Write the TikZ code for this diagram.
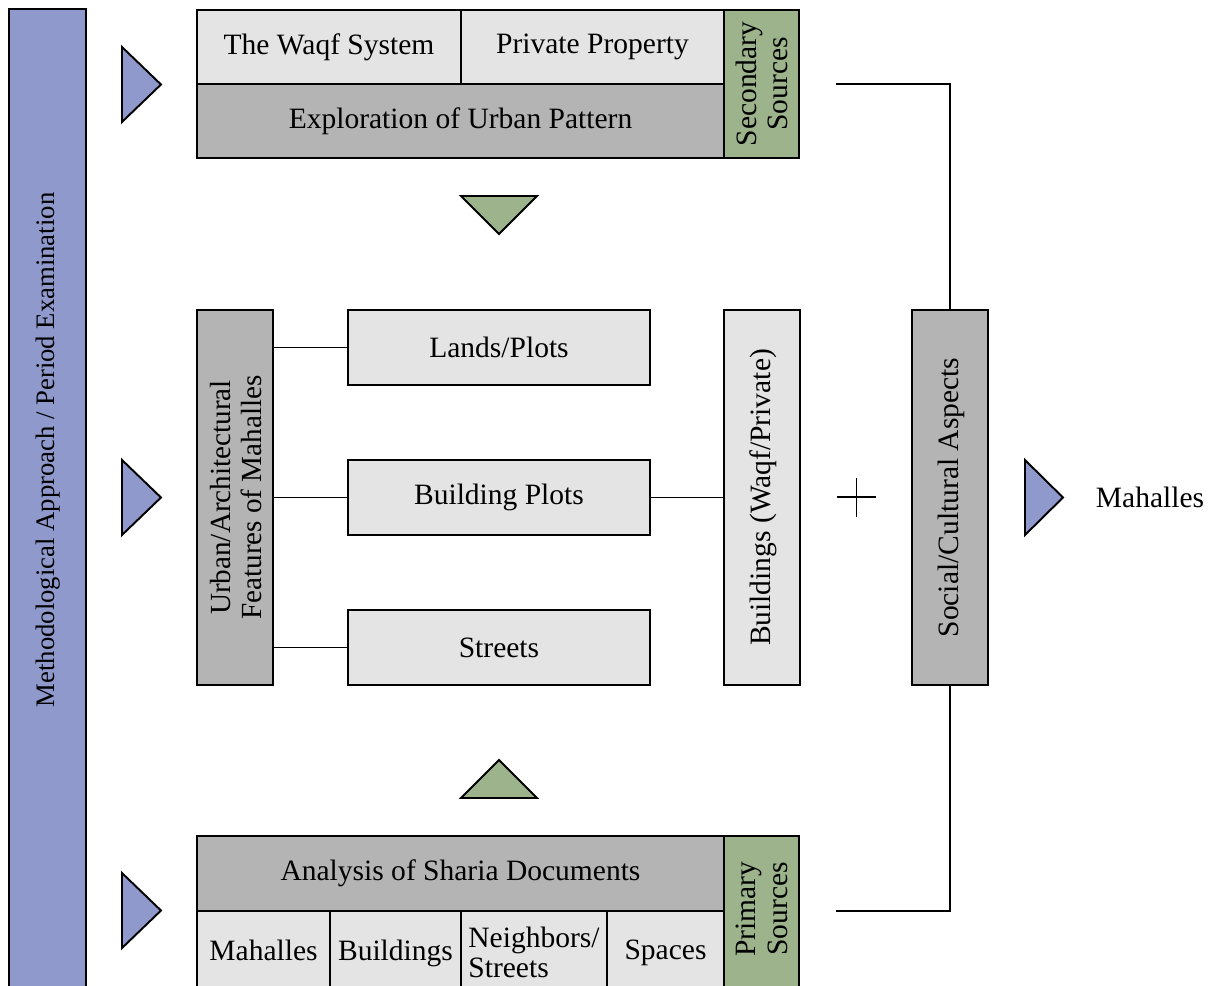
\documentclass[tikz,border=0pt]{standalone}
\usepackage{fontspec}
\setmainfont{Liberation Serif}
\definecolor{cblue}{HTML}{8F99CC}
\definecolor{cgreen}{HTML}{9CB38C}
\definecolor{clight}{HTML}{E4E4E4}
\definecolor{cdark}{HTML}{B4B4B4}
\begin{document}
\begin{tikzpicture}[x=0.02cm,y=-0.02cm,
  every node/.style={font=\fontsize{16.8}{18.5}\selectfont, inner sep=0pt},
  lightbox/.style={draw=black, line width=1.1pt, fill=clight},
  darkbox/.style={draw=black, line width=1.1pt, fill=cdark},
  greenbox/.style={draw=black, line width=1.1pt, fill=cgreen},
  bluebox/.style={draw=black, line width=1.1pt, fill=cblue},
  conn/.style={draw=black, line width=1pt},
  tri/.style={draw=black, line width=1.1pt, line join=miter}]
\useasboundingbox (0,0) rectangle (1218,985);
\clip (0,0) rectangle (1218,985);
% left bar
\node[bluebox, minimum width=1.54cm, minimum height=19.82cm] (bar) at (47.5,504.5) {};
\node[rotate=90, font=\fontsize{15.2}{18}\selectfont] (bartext) at (48,450) {Methodological Approach / Period Examination};
% blue triangles
\draw[tri, fill=cblue] (122,47) -- (161,84.5) -- (122,122) -- cycle;
\draw[tri, fill=cblue] (122,460) -- (161,497.5) -- (122,535) -- cycle;
\draw[tri, fill=cblue] (122,873) -- (161,910.5) -- (122,948) -- cycle;
\draw[tri, fill=cblue] (1025,460) -- (1063,497.5) -- (1025,535) -- cycle;
% green triangles
\draw[tri, fill=cgreen] (461,196) -- (537,196) -- (499,234) -- cycle;
\draw[tri, fill=cgreen] (461,798) -- (537,798) -- (499,760) -- cycle;
% top block
\node[lightbox, minimum width=5.28cm, minimum height=1.48cm] (waqf) at (329,47) {The Waqf System};
\node[lightbox, minimum width=5.26cm, minimum height=1.48cm] (private) at (592.5,47) {Private Property};
\node[darkbox, minimum width=10.54cm, minimum height=1.48cm] (explor) at (460.5,121) {Exploration of Urban Pattern};
\node[greenbox, minimum width=1.5cm, minimum height=2.96cm] (secondary) at (761.5,84) {};
\node[rotate=90, align=center, font=\fontsize{16.8}{18}\selectfont] (sectext) at (762,84) {Secondary\\Sources};
% middle block
\node[darkbox, minimum width=1.52cm, minimum height=7.5cm] (urban) at (235,497.5) {};
\node[rotate=90, align=center, font=\fontsize{16.6}{18}\selectfont] (urbantext) at (236,497.5) {Urban/Architectural\\Features of Mahalles};
\node[lightbox, minimum width=6.04cm, minimum height=1.5cm] (lands) at (499,347.5) {Lands/Plots};
\node[lightbox, minimum width=6.04cm, minimum height=1.5cm] (bplots) at (499,497.5) {Building Plots};
\node[lightbox, minimum width=6.04cm, minimum height=1.5cm] (streets) at (499,647.5) {Streets};
\node[lightbox, minimum width=1.52cm, minimum height=7.5cm] (buildings) at (762,497.5) {};
\node[rotate=90] (bldtext) at (763,497.5) {Buildings (Waqf/Private)};
\node[darkbox, minimum width=1.52cm, minimum height=7.5cm] (social) at (950,497.5) {};
\node[rotate=90] (socialtext) at (951,497.5) {Social/Cultural Aspects};
% plus sign
\coordinate (pl) at (837,497);
\coordinate (pr) at (876,497);
\coordinate (pt) at (856.5,478);
\coordinate (pb) at (856.5,517);
\draw[line width=0.8pt] (pl) -- (pr);
\draw[line width=0.8pt] (pt) -- (pb);
% output
\node (out) at (1150,497) {Mahalles};
% bottom block
\node[darkbox, minimum width=10.54cm, minimum height=1.5cm] (sharia) at (460.5,873.5) {Analysis of Sharia Documents};
\node[lightbox, minimum width=2.66cm, minimum height=1.8cm] (cmah) at (263.5,956) {\raisebox{0.25cm}{Mahalles}};
\node[lightbox, minimum width=2.62cm, minimum height=1.8cm] (cbld) at (395.5,956) {\raisebox{0.25cm}{Buildings}};
\node[lightbox, minimum width=2.92cm, minimum height=1.8cm] (cnei) at (534,956) {\raisebox{0.25cm}{\begin{tabular}{@{}l@{}}Neighbors/\\[-1pt]Streets\end{tabular}}};
\node[lightbox, minimum width=2.34cm, minimum height=1.8cm] (cspa) at (665.5,956) {\raisebox{0.25cm}{Spaces}};
\node[greenbox, minimum width=1.5cm, minimum height=3.12cm] (primary) at (761.5,914) {};
\node[rotate=90, align=center, font=\fontsize{16.8}{18}\selectfont] (primtext) at (762,909) {Primary\\Sources};
% connectors
\draw[conn] (urban.east |- lands.west) -- (lands.west);
\draw[conn] (urban.east |- bplots.west) -- (bplots.west);
\draw[conn] (urban.east |- streets.west) -- (streets.west);
\draw[conn] (bplots.east) -- (buildings.west |- bplots.east);
\coordinate (ts) at (836,84);
\coordinate (bs) at (836,911);
\draw[conn] (ts) -| (social.north);
\draw[conn] (bs) -| (social.south);
\end{tikzpicture}
\end{document}
